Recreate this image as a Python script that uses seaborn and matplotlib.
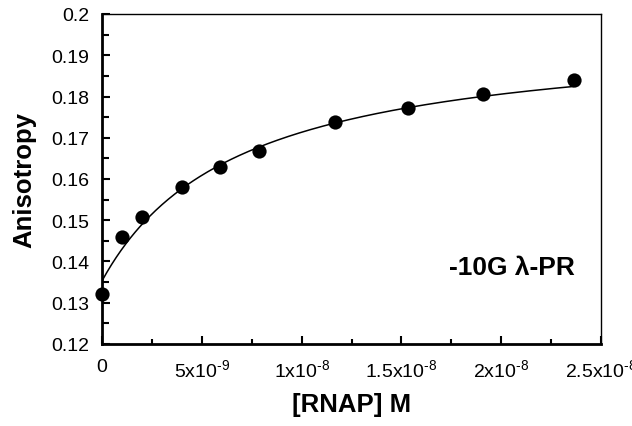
import numpy as np
import pandas as pd
import matplotlib
matplotlib.use("Agg")
import matplotlib.pyplot as plt
from matplotlib.ticker import MultipleLocator, FuncFormatter
import seaborn as sns

# Data
rnap_M = [0.0, 1.0e-9, 2.0e-9, 4.0e-9, 5.9e-9, 7.85e-9, 1.165e-8, 1.535e-8, 1.91e-8, 2.365e-8]
anisotropy = [0.1320, 0.1459, 0.1509, 0.1581, 0.1629, 0.1669, 0.1737, 0.1771, 0.1806, 0.1840]

# Hyperbolic binding fit parameters
fit_r0 = 0.1353
fit_amp = 0.0609
fit_kd = 6.9e-9

x_ticks = [0, 5e-9, 1e-8, 1.5e-8, 2e-8, 2.5e-8]
x_tick_labels = ["0", r"5x10$^{\text{-9}}$", r"1x10$^{\text{-8}}$", r"1.5x10$^{\text{-8}}$",
                 r"2x10$^{\text{-8}}$", r"2.5x10$^{\text{-8}}$"]
annotation = "-10G λ-PR"

sns.set_style("ticks")
plt.rcParams["font.family"] = ["Liberation Sans", "DejaVu Sans"]
plt.rcParams["mathtext.fontset"] = "custom"
plt.rcParams["mathtext.rm"] = "Liberation Sans"
plt.rcParams["mathtext.it"] = "Liberation Sans"
plt.rcParams["mathtext.bf"] = "Liberation Sans:bold"
plt.rcParams["text.color"] = "black"
plt.rcParams["axes.labelcolor"] = "black"
plt.rcParams["xtick.color"] = "black"
plt.rcParams["ytick.color"] = "black"

fig = plt.figure(figsize=(6.32, 4.27), dpi=100)
ax = fig.add_axes([102/632, 1-345/427, (601-102)/632, (345-15)/427])

df = pd.DataFrame({"x": rnap_M, "y": anisotropy})
xfit = np.linspace(0, max(rnap_M), 300)
yfit = fit_r0 + fit_amp * xfit / (fit_kd + xfit)
fit_df = pd.DataFrame({"x": xfit, "y": yfit})

sns.lineplot(data=fit_df, x="x", y="y", ax=ax, color="black", linewidth=1.1)
sns.scatterplot(data=df, x="x", y="y", ax=ax, color="black", s=105, edgecolor="black",
                linewidth=0, zorder=5, clip_on=False)

ax.set_xlim(0, 2.5e-8)
ax.set_ylim(0.12, 0.2)
ax.xaxis.set_minor_locator(MultipleLocator(2.5e-9))
ax.yaxis.set_major_locator(MultipleLocator(0.01))
ax.yaxis.set_minor_locator(MultipleLocator(0.005))
ax.set_xticks(x_ticks)
ax.set_xticklabels(x_tick_labels)
ax.yaxis.set_major_formatter(FuncFormatter(lambda v, p: f"{v:.2f}".rstrip("0").rstrip(".")))

ax.tick_params(axis="both", which="both", direction="in", labelsize=14, color="black",
               labelcolor="black")
ax.tick_params(axis="x", which="major", length=6, width=1.5, pad=10)
ax.tick_params(axis="x", which="minor", length=3.5, width=1.5)
ax.tick_params(axis="y", which="major", length=5.5, width=1.5, pad=9)
ax.tick_params(axis="y", which="minor", length=5, width=1.5)

for side in ["left", "bottom"]:
    ax.spines[side].set_linewidth(2.0)
    ax.spines[side].set_color("black")
for side in ["top", "right"]:
    ax.spines[side].set_visible(True)
    ax.spines[side].set_linewidth(1.0)
    ax.spines[side].set_color("black")

ax.set_xlabel("[RNAP] M", fontsize=18.5, fontweight="bold", labelpad=9, color="black")
ax.set_ylabel("Anisotropy", fontsize=18.5, fontweight="bold", labelpad=11, color="black")

ax.text(2.37e-8, 0.1387, annotation, ha="right", va="center", fontsize=19,
        fontweight="bold", color="black")

fig.savefig("out.png", dpi=100)
